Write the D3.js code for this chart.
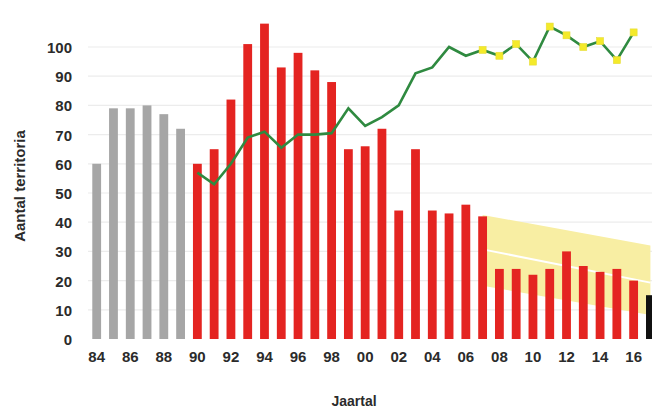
<!DOCTYPE html>
<html><head><meta charset="utf-8">
<script src="https://cdn.jsdelivr.net/npm/d3@7"></script>
<style>html,body{margin:0;padding:0;background:#fff;overflow:hidden}svg{display:block;font-family:"Liberation Sans",Arial,sans-serif}</style>
</head><body><svg id="c" width="652" height="410"></svg>
<script>
const years = d3.range(1984, 2018);
const barValues = [60,79,79,80,77,72, 60,65,82,101,108,93,98,92,88,65, 66,72,44,65,44,43,46,42,24,24, 22,24,30,25,23,24,20,15];
const barGroup = years.map(y => y < 1990 ? "grey" : (y === 2017 ? "black" : "red"));
const lineYears = d3.range(1990, 2017);
const lineValues = [57,53,60,69,71,65.5,70,70,70.5,79,73,76,80,91,93,100,97,99,97,101,95,107,104,100,102,95.5,105];
const markerFrom = 2007;
const bandYears = [2007, 2017];
const bandUpper = [42.5, 32];
const bandLower = [18.2, 8.2];
const trendValues = [30.7, 19.3];
const yTicks = [0,10,20,30,40,50,60,70,80,90,100];
const xTickLabels = ["84","86","88","90","92","94","96","98","00","02","04","06","08","10","12","14","16"];
const colors = {grey:"#a6a6a6", red:"#e42421", black:"#111111"};

const svg = d3.select("#c");
const x = d3.scaleBand().domain(years).range([88.3, 658.8]).paddingInner(0.475).paddingOuter(0.2375);
const y = d3.scaleLinear().domain([0, 100]).range([339, 47]);
const cx = d => x(d) + x.bandwidth()/2;

// gridlines
svg.append("g").selectAll("line").data(yTicks.filter(t=>t>0)).join("line")
  .attr("x1", 88).attr("x2", 652).attr("y1", d=>y(d)).attr("y2", d=>y(d))
  .attr("stroke", "#ececec").attr("stroke-width", 1.2);

// band
const bandData = bandYears.map((yr,i)=>({yr, u:bandUpper[i], l:bandLower[i]}));
svg.append("path").datum(bandData)
  .attr("d", d3.area().x(d=>cx(d.yr)).y0(d=>y(d.l)).y1(d=>y(d.u)))
  .attr("fill", "#f8eea3");
svg.append("path").datum(bandYears.map((yr,i)=>({yr, v:trendValues[i]})))
  .attr("d", d3.line().x(d=>cx(d.yr)).y(d=>y(d.v)))
  .attr("stroke", "#ffffff").attr("stroke-width", 2).attr("fill","none");

// bars
svg.append("g").selectAll("rect").data(years.map((yr,i)=>({yr, v:barValues[i], g:barGroup[i]}))).join("rect")
  .attr("x", d=>x(d.yr)).attr("width", x.bandwidth())
  .attr("y", d=>y(d.v)).attr("height", d=>y(0)-y(d.v))
  .attr("fill", d=>colors[d.g]);

// green line
const lineData = lineYears.map((yr,i)=>({yr, v:lineValues[i]}));
svg.append("path").datum(lineData)
  .attr("d", d3.line().x(d=>cx(d.yr)).y(d=>y(d.v)))
  .attr("stroke", "#2f8a40").attr("stroke-width", 2.6).attr("fill","none").attr("stroke-linejoin","miter");
svg.append("g").selectAll("rect").data(lineData.filter(d=>d.yr>=markerFrom)).join("rect")
  .attr("x", d=>cx(d.yr)-3.5).attr("y", d=>y(d.v)-3.5).attr("width",7).attr("height",7)
  .attr("fill", "#f4ea2a").attr("stroke","#e6dc3a").attr("stroke-width",0.6);

// y axis labels
const yAxis = d3.axisLeft(y).tickValues(yTicks).tickSize(0).tickPadding(0);
const gy = svg.append("g").attr("transform","translate(72,0)").call(yAxis);
gy.select(".domain").remove();
gy.selectAll("text").attr("font-size", 15).attr("font-weight","bold").attr("fill","#2b2b2b").attr("font-family","Liberation Sans, Arial, sans-serif").attr("dy","0.36em");

// x axis labels
const labelYears = years.filter((yr)=> (yr%2===0) && yr<=2016);
const xAxis = d3.axisBottom(x).tickValues(labelYears).tickSize(0).tickPadding(0)
  .tickFormat(d => xTickLabels[labelYears.indexOf(d)]);
const gx = svg.append("g").attr("transform","translate(0,351)").call(xAxis);
gx.select(".domain").remove();
gx.selectAll("text").attr("font-size", 15).attr("font-weight","bold").attr("fill","#2b2b2b").attr("font-family","Liberation Sans, Arial, sans-serif").attr("dy","0.75em");

svg.append("text").attr("x", 354).attr("y", 406).attr("text-anchor","middle")
  .attr("font-size", 14).attr("font-weight","bold").attr("fill","#2b2b2b").text("Jaartal");
svg.append("text").attr("transform","translate(25,186) rotate(-90)").attr("text-anchor","middle")
  .attr("font-size", 15).attr("font-weight","bold").attr("fill","#2b2b2b").text("Aantal territoria");
</script></body></html>
